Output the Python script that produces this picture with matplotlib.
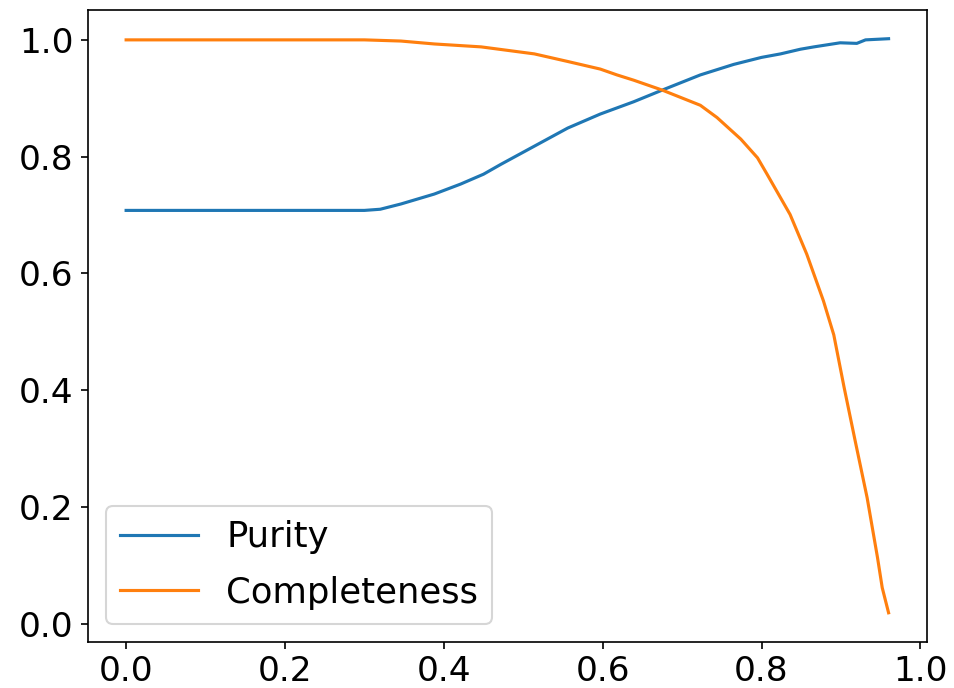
import numpy as np
import matplotlib.pyplot as plt

# threshold vs purity / completeness
thr_purity = [0.0, 0.30, 0.32, 0.346, 0.388, 0.421, 0.45, 0.472, 0.514, 0.556,
              0.597, 0.639, 0.675, 0.723, 0.765, 0.80, 0.824, 0.849, 0.866,
              0.899, 0.920, 0.931, 0.96]
purity = [0.708, 0.708, 0.710, 0.719, 0.736, 0.753, 0.770, 0.787, 0.818, 0.849,
          0.873, 0.894, 0.914, 0.940, 0.958, 0.970, 0.976, 0.984, 0.988,
          0.995, 0.994, 1.000, 1.002]

thr_compl = [0.0, 0.30, 0.346, 0.388, 0.447, 0.514, 0.556, 0.597, 0.618, 0.639,
             0.675, 0.723, 0.744, 0.774, 0.795, 0.807, 0.836, 0.857, 0.878,
             0.891, 0.904, 0.918, 0.933, 0.946, 0.952, 0.96]
completeness = [1.0, 1.0, 0.998, 0.993, 0.988, 0.976, 0.963, 0.950, 0.940, 0.931,
                0.914, 0.888, 0.867, 0.830, 0.798, 0.770, 0.701, 0.633, 0.553,
                0.495, 0.405, 0.313, 0.216, 0.114, 0.062, 0.019]

fig = plt.figure(figsize=(954 / 150, 688 / 150), dpi=150)
ax = fig.add_axes([88 / 954, 1 - 641.5 / 688, (926.7 - 88) / 954, (641.5 - 10) / 688])

ax.plot(thr_purity, purity, label='Purity')
ax.plot(thr_compl, completeness, label='Completeness')

ax.tick_params(labelsize=16.5)
ax.tick_params(axis='x', pad=3)
ax.legend(loc='lower left', fontsize=17, handlelength=2.2, labelspacing=0.6)

fig.savefig('out.png', dpi=150)
